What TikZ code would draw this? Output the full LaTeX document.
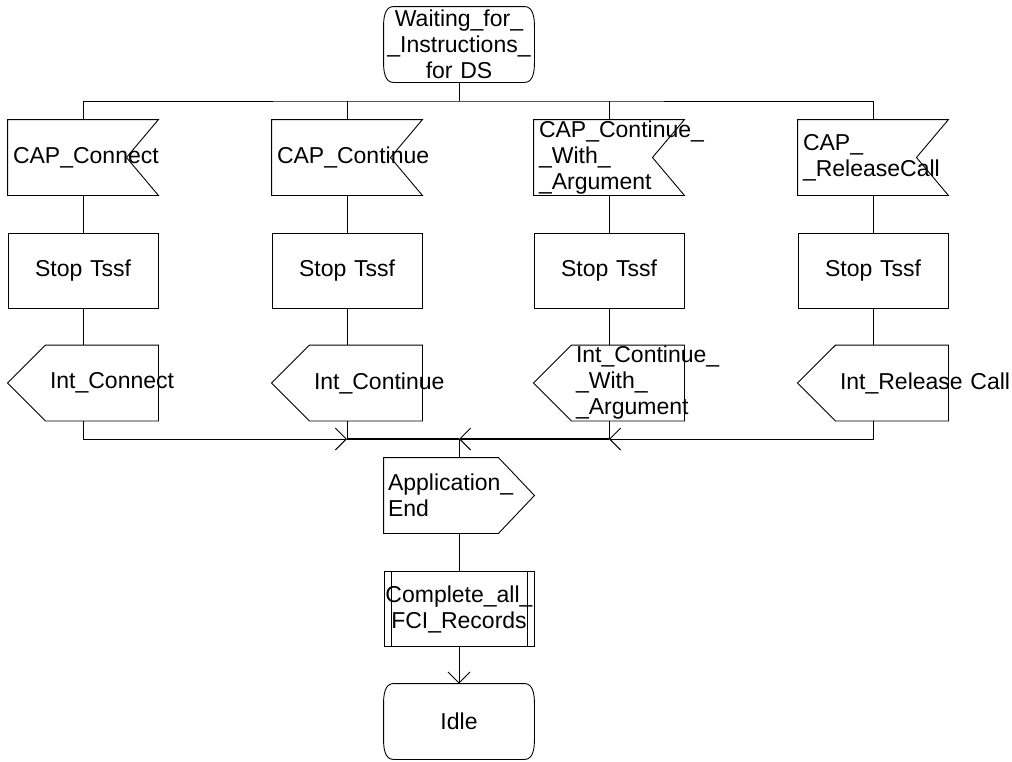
\documentclass[tikz,border=0pt]{standalone}
\usepackage{fontspec}
\setmainfont{Liberation Sans}
\usetikzlibrary{arrows.meta}
\hyphenpenalty=10000
\tikzset{
  every node/.style={font=\fontsize{23}{26}\selectfont},
  sdl/.style={minimum width=150pt, minimum height=75pt, inner ysep=0pt},
  statebox/.style={sdl, inner xsep=1pt, text width=148pt, align=center,
    append after command={\pgfextra{
      \draw ([xshift=10pt]\tikzlastnode.north west) -- ([xshift=-10pt]\tikzlastnode.north east)
        to[out=0,in=90] ([yshift=-20pt]\tikzlastnode.north east)
        -- ([yshift=20pt]\tikzlastnode.south east)
        to[out=-90,in=0] ([xshift=-10pt]\tikzlastnode.south east)
        -- ([xshift=10pt]\tikzlastnode.south west)
        to[out=180,in=-90] ([yshift=20pt]\tikzlastnode.south west)
        -- ([yshift=-20pt]\tikzlastnode.north west)
        to[out=90,in=180] ([xshift=10pt]\tikzlastnode.north west) -- cycle;}}},
  taskbox/.style={sdl, draw, inner xsep=5pt, text width=140pt, align=center},
  procbox/.style={sdl, draw, inner xsep=1pt, text width=148pt, align=center,
    append after command={\pgfextra{
      \draw ([xshift=8pt]\tikzlastnode.north west) -- ([xshift=8pt]\tikzlastnode.south west);
      \draw ([xshift=-7pt]\tikzlastnode.north east) -- ([xshift=-7pt]\tikzlastnode.south east);}}},
  inbox/.style={sdl, inner xsep=5pt, text width=140pt, align=left,
    append after command={\pgfextra{
      \draw (\tikzlastnode.north west) -- (\tikzlastnode.north east)
        -- ([xshift=-32pt]\tikzlastnode.east) -- (\tikzlastnode.south east)
        -- (\tikzlastnode.south west) -- cycle;}}},
  outleft/.style={sdl, inner xsep=42pt, text width=66pt, align=left,
    append after command={\pgfextra{
      \draw (\tikzlastnode.west) -- ([xshift=38pt]\tikzlastnode.north west)
        -- (\tikzlastnode.north east) -- (\tikzlastnode.south east)
        -- ([xshift=38pt]\tikzlastnode.south west) -- cycle;}}},
  outright/.style={sdl, inner xsep=4pt, text width=142pt, align=left,
    append after command={\pgfextra{
      \draw (\tikzlastnode.north west) -- ([xshift=-36pt]\tikzlastnode.north east)
        -- (\tikzlastnode.east) -- ([xshift=-36pt]\tikzlastnode.south east)
        -- (\tikzlastnode.south west) -- cycle;}}},
  bus/.style={line width=2pt},
  barb/.style={-{Straight Barb[length=11pt,width=22pt,line width=0.9pt]}},
}
\begin{document}
\begin{tikzpicture}[x=1pt,y=-1pt,line width=0.9pt]
\useasboundingbox (0,0) rectangle (1012,761);
% start state
\node[statebox] (wait) at (459,44.5) {Waiting\_for\_\\\_Instructions\_\\for DS};
\coordinate (split) at (459,101);
% inputs
\node[inbox] (capconn) at (83,157.5) {CAP\_Connect};
\node[inbox] (capcont) at (347,157.5) {CAP\_Continue};
\node[inbox] (capcwa) at (609,157.5) {CAP\_Continue\_\\\_With\_\\\_Argument};
\node[inbox] (caprel) at (873,157.5) {CAP\_\\\_ReleaseCall};
% timers
\node[taskbox] (stop1) at (83,270.5) {Stop Tssf};
\node[taskbox] (stop2) at (347,270.5) {Stop Tssf};
\node[taskbox] (stop3) at (609,270.5) {Stop Tssf};
\node[taskbox] (stop4) at (873,270.5) {Stop Tssf};
% outputs
\node[outleft] (intconn) at (83,383) {Int\_Connect};
\node[outleft] (intcont) at (347,383) {Int\_Continue};
\node[outleft] (intcwa) at (609,383) {Int\_Continue\_\\\_With\_\\\_Argument};
\node[outleft] (intrel) at (873,383) {Int\_Release~Call};
\coordinate (join) at (459,439);
% tail
\node[outright] (append) at (459,495.5) {Application\_\\End};
\node[procbox] (fcirec) at (459,609) {Complete\_all\_\\FCI\_Records};
\node[statebox] (idle) at (459,721.5) {Idle};
% connectors
\draw (wait.south) -- (split);
\draw (capconn.north) |- (split) -| (caprel.north);
\draw (capcont.north) -- (capcont.north |- split);
\draw (capcwa.north) -- (capcwa.north |- split);
\draw (capconn.south) -- (stop1.north);
\draw (capcont.south) -- (stop2.north);
\draw (capcwa.south) -- (stop3.north);
\draw (caprel.south) -- (stop4.north);
\draw (stop1.south) -- (intconn.north);
\draw (stop2.south) -- (intcont.north);
\draw (stop3.south) -- (intcwa.north);
\draw (stop4.south) -- (intrel.north);
\draw[barb] (intconn.south) |- (intcont.south |- join);
\draw[barb] (intrel.south) |- (intcwa.south |- join);
\draw (intcont.south) -- (intcont.south |- join);
\draw (intcwa.south) -- (intcwa.south |- join);
\draw[bus] (intcont.south |- join) -- (join);
\draw[bus,barb] (intcwa.south |- join) -- (join);
\draw (join) -- (append.north);
\draw (append.south) -- (fcirec.north);
\draw[barb] (fcirec.south) -- (idle.north);
\end{tikzpicture}
\end{document}
